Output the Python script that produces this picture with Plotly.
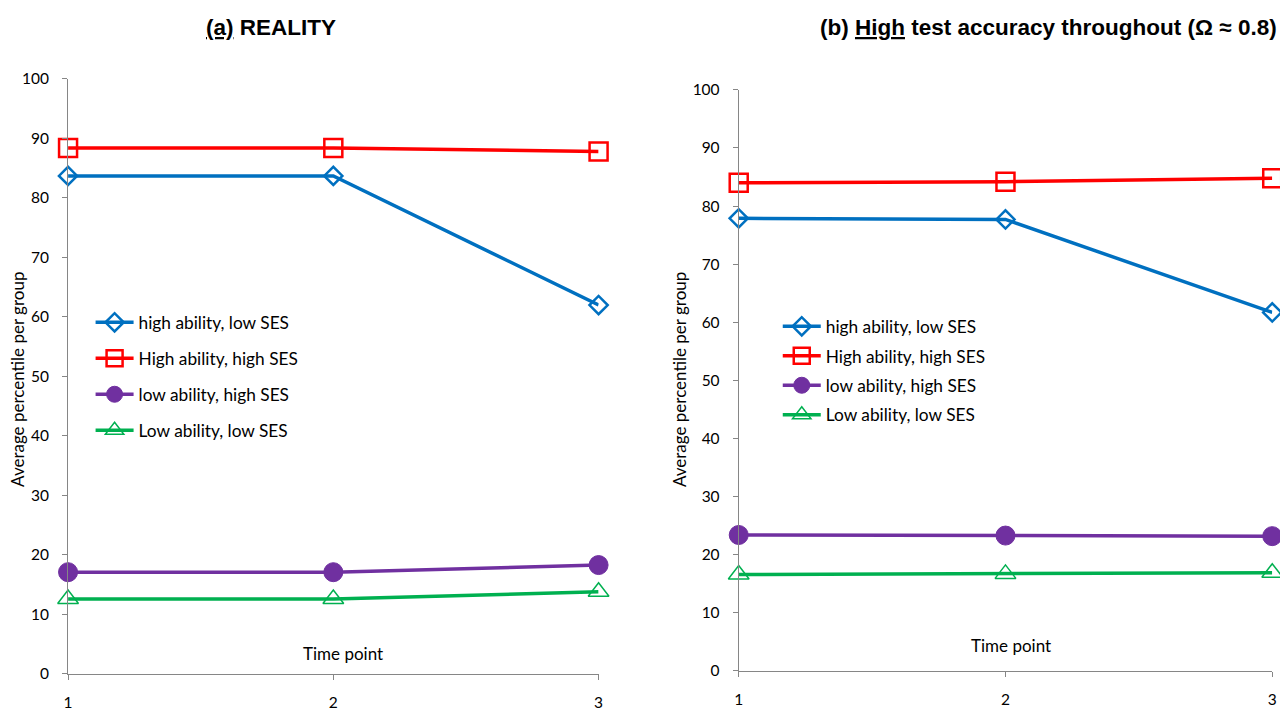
import plotly.graph_objects as go

time_points = [1, 2, 3]
series_names = ["high ability, low SES", "High ability, high SES", "low ability, high SES", "Low ability, low SES"]

reality = {
    "high ability, low SES": [83.7, 83.7, 62.0],
    "High ability, high SES": [88.4, 88.4, 87.8],
    "low ability, high SES": [17.1, 17.1, 18.3],
    "Low ability, low SES": [12.6, 12.6, 13.8],
}
high_acc = {
    "high ability, low SES": [77.9, 77.7, 61.7],
    "High ability, high SES": [84.0, 84.2, 84.8],
    "low ability, high SES": [23.4, 23.3, 23.2],
    "Low ability, low SES": [16.6, 16.7, 16.9],
}

styles = {
    "high ability, low SES": dict(color="#0070C0", symbol="diamond-open", size=14, lw=2.5),
    "High ability, high SES": dict(color="#FF0000", symbol="square-open", size=18, lw=2.5),
    "low ability, high SES": dict(color="#7030A0", symbol="circle", size=19, lw=1),
    "Low ability, low SES": dict(color="#00B050", symbol="triangle-up-open", size=18, lw=1.5),
}

W, H = 1280, 711
# observed mapping from figure pixels to the photographed page
SX0, SXK, SY0, SYK = 4.0, 0.992, 10.0, 0.972
FONT = "Lato, Calibri, 'Open Sans', sans-serif"
TFONT = "'Liberation Sans', Arial, sans-serif"
AX = "#868686"


def fx(sx):
    return ((sx - SX0) / SXK) / W


def fy(sy):
    return 1 - ((sy - SY0) / SYK) / H


fig = go.Figure()
for data, xa, ya, lg in [(reality, "x", "y", "legend"), (high_acc, "x2", "y2", "legend2")]:
    for i, name in enumerate(series_names):
        s = styles[name]
        fig.add_trace(go.Scatter(
            x=time_points, y=data[name], name=name, mode="lines+markers",
            xaxis=xa, yaxis=ya, legend=lg, legendgroup=f"{lg}{i}",
            cliponaxis=False,
            line=dict(color=s["color"], width=3.5),
            marker=dict(symbol=s["symbol"], size=s["size"], color=s["color"],
                        line=dict(color=s["color"], width=s["lw"])),
        ))


def xaxis(domain, anchor):
    return dict(domain=domain, range=[1, 3], anchor=anchor, showgrid=False, zeroline=False,
                showline=True, linecolor=AX, linewidth=1, ticks="outside", ticklen=5,
                tickcolor=AX, tickvals=time_points, ticktext=[str(t) for t in time_points],
                tickfont=dict(family=FONT, size=15.5, color="#000"), ticklabelstandoff=9)


def yaxis(domain, anchor):
    return dict(domain=domain, range=[0, 100], anchor=anchor, showgrid=False, zeroline=False,
                showline=True, linecolor=AX, linewidth=1, ticks="outside", ticklen=5,
                tickcolor=AX, dtick=10, tickfont=dict(family=FONT, size=15.5, color="#000"),
                ticklabelstandoff=10)


def ann(text, x, y, size, family=FONT, xanchor="center", angle=0):
    return dict(text=text, x=fx(x), y=fy(y), xref="paper", yref="paper", xanchor=xanchor,
                yanchor="middle", textangle=angle, showarrow=False,
                font=dict(family=family, size=size, color="#000"))


fig.update_layout(
    width=W, height=H, margin=dict(l=0, r=0, t=0, b=0),
    paper_bgcolor="white", plot_bgcolor="white",
    xaxis=xaxis([fx(67), fx(597)], "y"),
    yaxis=yaxis([fy(675), fy(79)], "x"),
    xaxis2=xaxis([fx(737), min(fx(1270), 1)], "y2"),
    yaxis2=yaxis([fy(672), fy(90)], "x2"),
    legend=dict(x=fx(89.5), y=fy(305), xanchor="left", yanchor="top", bgcolor="rgba(0,0,0,0)",
                font=dict(family=FONT, size=17.3, color="#000"), tracegroupgap=10.5,
                itemwidth=38, traceorder="grouped"),
    legend2=dict(x=fx(776), y=fy(309), xanchor="left", yanchor="top", bgcolor="rgba(0,0,0,0)",
                 font=dict(family=FONT, size=17.3, color="#000"), tracegroupgap=4,
                 itemwidth=38, traceorder="grouped"),
    annotations=[
        ann("<b><u>(a)</u> REALITY</b>", 270, 28, 22.5, TFONT),
        ann("<b>(b) <u>High</u> test accuracy throughout (Ω ≈ 0.8)</b>", 1277, 28, 22.5, TFONT, "right"),
        ann("Average percentile per group", 16.5, 380, 17, angle=-90),
        ann("Average percentile per group", 678, 380, 17, angle=-90),
        ann("Time point", 342, 655, 17),
        ann("Time point", 1009, 647, 17),
    ],
)

fig.write_html("out.html")
